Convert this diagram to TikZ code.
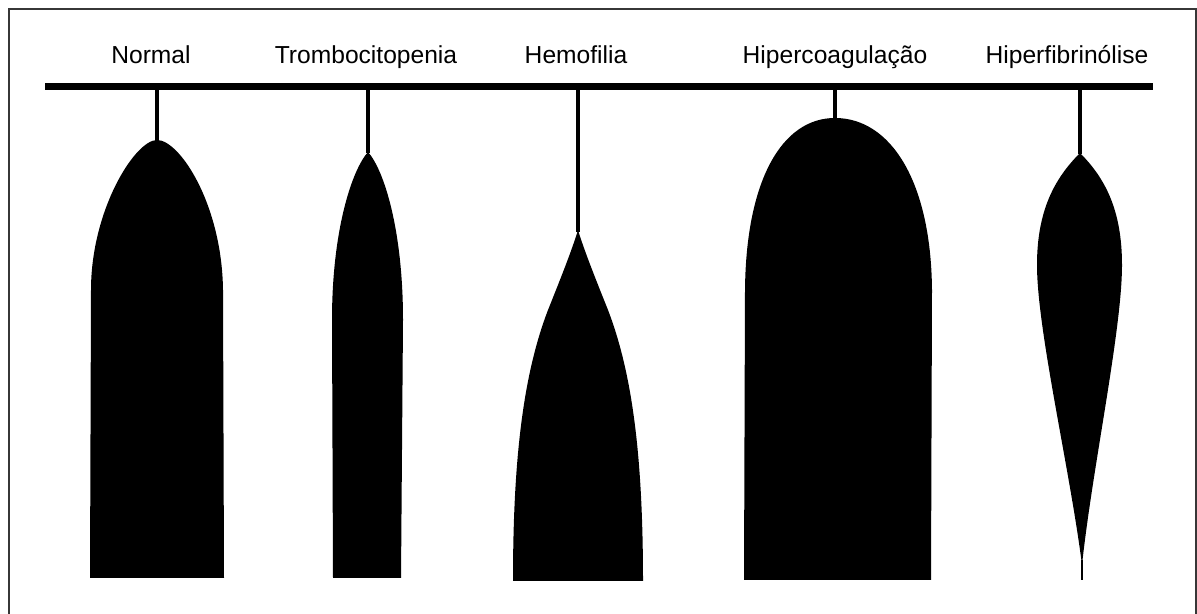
\documentclass[tikz,border=0pt]{standalone}
\usepackage{fontspec}
\setmainfont{Liberation Sans}
\definecolor{framegray}{RGB}{55,55,55}
\tikzset{
  heading/.style={anchor=base, inner sep=0pt, font=\fontsize{14}{16}\selectfont},
  axisbar/.style={draw=black, line width=0.14cm},
  stem/.style={draw=black, line width=0.065cm},
  trace/.style={fill=black},
  frame/.style={draw=framegray, line width=0.035cm}
}

\begin{document}
\begin{tikzpicture}[x=0.02cm,y=-0.02cm]
  \useasboundingbox (0,0) rectangle (1197,614);
  \draw[frame] (9,640) -- (9,9) -- (1196,9) -- (1196,640);

  % Headings and the common bar.
  \node[heading] (normal) at (151,64) {Normal};
  \node[heading] (trombo) at (366,64) {Trombocitopenia};
  \node[heading] (hemo) at (576,64) {Hemofilia};
  \node[heading] (hiperco) at (835,64) {Hipercoagulação};
  \node[heading] (hiperfib) at (1067,64) {Hiperfibrinólise};
  \coordinate (barleft) at (45,87);
  \coordinate (barright) at (1153,87);
  \draw[axisbar] (barleft) -- (barright);

  % Stems from the bar down to each trace.
  \coordinate (normal-bar) at (157,87);   \coordinate (normal-apex) at (157,141);
  \coordinate (trombo-bar) at (368,87);   \coordinate (trombo-apex) at (368,153);
  \coordinate (hemo-bar) at (578,87);     \coordinate (hemo-apex) at (578,232);
  \coordinate (hiperco-bar) at (835,87);  \coordinate (hiperco-apex) at (835,119);
  \coordinate (hiperfib-bar) at (1080,87); \coordinate (hiperfib-apex) at (1080,154);
  \draw[stem] (normal-bar) -- (normal-apex);
  \draw[stem] (trombo-bar) -- (trombo-apex);
  \draw[stem] (hemo-bar) -- (hemo-apex);
  \draw[stem] (hiperco-bar) -- (hiperco-apex);
  \draw[stem] (hiperfib-bar) -- (hiperfib-apex);

  % Traces.
  \fill[trace] (90,578) -- (91,290) .. controls (91,210) and (135,140) .. (157,140)
    .. controls (180,140) and (222,205) .. (223,290) -- (224,578) -- cycle;
  \fill[trace] (333,578) -- (332,320) .. controls (332,230) and (352,170) .. (368,152)
    .. controls (384,170) and (403,230) .. (403,320) -- (401,578) -- cycle;
  \fill[trace] (513,581) -- (513,580) .. controls (513,450) and (525,370) .. (548,310)
    .. controls (560,280) and (572,250) .. (578,230)
    .. controls (584,250) and (596,280) .. (608,310)
    .. controls (631,370) and (643,450) .. (643,581) -- cycle;
  \fill[trace] (744,580) -- (745,290) .. controls (746,180) and (782,118) .. (835,118)
    .. controls (890,118) and (931,180) .. (932,290) -- (931,580) -- cycle;
  \fill[trace] (1082,565) .. controls (1070,470) and (1037,330) .. (1037,265)
    .. controls (1037,210) and (1055,178) .. (1080,153)
    .. controls (1105,178) and (1122,210) .. (1122,265)
    .. controls (1122,330) and (1092,470) .. (1082,565) -- cycle;
  \coordinate (hiperfib-tip) at (1082,560);
  \coordinate (hiperfib-end) at (1082,580);
  \draw[stem, line width=0.04cm] (hiperfib-tip) -- (hiperfib-end);
\end{tikzpicture}
\end{document}
